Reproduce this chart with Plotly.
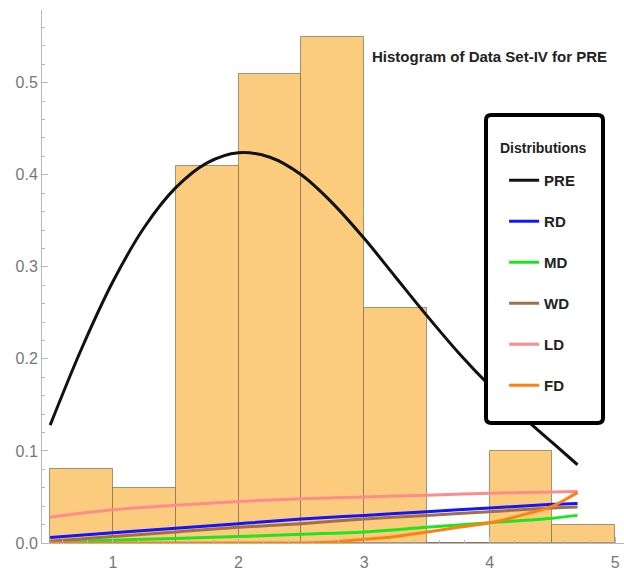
import plotly.graph_objects as go

# Histogram of the data set (density scale), bins of width 0.5
bin_edges = [0.5, 1.0, 1.5, 2.0, 2.5, 3.0, 3.5, 4.0, 4.5, 5.0]
bin_density = [0.08, 0.06, 0.41, 0.51, 0.55, 0.255, 0.0, 0.10, 0.02]

# Fitted density curves
pre_x = [0.5, 0.75, 1.0, 1.25, 1.5, 1.75, 2.0, 2.25, 2.5, 2.75, 3.0, 3.25, 3.5, 3.75, 4.0, 4.25, 4.5, 4.7]
pre_y = [0.128, 0.211, 0.284, 0.343, 0.386, 0.413, 0.424, 0.419, 0.400, 0.369, 0.331, 0.289, 0.247, 0.207, 0.171, 0.139, 0.109, 0.085]

grid_x = [0.5, 1.0, 1.5, 2.0, 2.5, 3.0, 3.5, 4.0, 4.5, 4.7]
rd_y = [0.006, 0.011, 0.016, 0.021, 0.026, 0.030, 0.034, 0.038, 0.042, 0.043]
md_y = [0.001, 0.003, 0.005, 0.007, 0.0095, 0.012, 0.017, 0.022, 0.027, 0.030]
wd_y = [0.002, 0.007, 0.012, 0.017, 0.021, 0.026, 0.030, 0.034, 0.038, 0.039]
ld_y = [0.028, 0.036, 0.041, 0.045, 0.048, 0.050, 0.052, 0.054, 0.0555, 0.056]

fd_x = [0.5, 1.0, 1.5, 2.0, 2.5, 2.75, 3.0, 3.25, 3.5, 3.75, 4.0, 4.25, 4.5, 4.6, 4.7]
fd_y = [0.0, 0.0, 0.0, 0.0, 0.0, 0.001, 0.004, 0.007, 0.012, 0.017, 0.022, 0.030, 0.040, 0.047, 0.055]

series = [
    ("PRE", pre_x, pre_y, "#111111"),
    ("RD", grid_x, rd_y, "#1414ff"),
    ("MD", grid_x, md_y, "#1ee61e"),
    ("WD", grid_x, wd_y, "#a0704a"),
    ("LD", grid_x, ld_y, "#ff8c8c"),
    ("FD", fd_x, fd_y, "#ff8010"),
]

FONT = "Liberation Sans, Arial, sans-serif"

fig = go.Figure()

centers = [(a + b) / 2 for a, b in zip(bin_edges[:-1], bin_edges[1:])]
widths = [b - a for a, b in zip(bin_edges[:-1], bin_edges[1:])]
fig.add_trace(go.Bar(
    x=centers, y=bin_density, width=widths,
    marker=dict(color="#fccc7e", line=dict(color="rgba(120,100,70,0.65)", width=1)),
    showlegend=False, hoverinfo="skip",
))

for i, (name, xs, ys, col) in enumerate(series):
    fig.add_trace(go.Scatter(
        x=xs, y=ys, name=name, mode="lines",
        line=dict(color=col, width=3, shape="spline", smoothing=1.0),
        legendgroup=f"g{i}",
    ))

# Title text in the upper right of the plot area
fig.add_annotation(
    text="<b>Histogram of Data Set-IV for PRE</b>",
    xref="paper", yref="paper", x=0.974, y=0.912,
    xanchor="right", yanchor="middle", showarrow=False,
    font=dict(family=FONT, size=15, color="#222222"),
)

# Legend frame: opaque white box with a heavy, slightly rounded black border
bx0, bx1, by0, by1 = 0.7629, 0.9639, 0.2251, 0.8030
rx, ry = 0.009, 0.0095
frame = (
    f"M {bx0 + rx},{by1} L {bx1 - rx},{by1} Q {bx1},{by1} {bx1},{by1 - ry} "
    f"L {bx1},{by0 + ry} Q {bx1},{by0} {bx1 - rx},{by0} "
    f"L {bx0 + rx},{by0} Q {bx0},{by0} {bx0},{by0 + ry} "
    f"L {bx0},{by1 - ry} Q {bx0},{by1} {bx0 + rx},{by1} Z"
)
fig.add_shape(
    type="path", path=frame, xref="paper", yref="paper",
    line=dict(color="black", width=4), fillcolor="white", layer="above",
)
fig.add_annotation(
    text="<b>Distributions</b>",
    xref="paper", yref="paper", x=0.861, y=0.741,
    xanchor="center", yanchor="middle", showarrow=False,
    font=dict(family=FONT, size=14, color="#222222"),
)

fig.update_layout(
    width=624, height=574,
    margin=dict(l=42, r=0, t=10, b=31),
    paper_bgcolor="white", plot_bgcolor="white",
    bargap=0,
    font=dict(family=FONT, color="#222222"),
    legend=dict(
        x=0.794, y=0.7111, xanchor="left", yanchor="top",
        borderwidth=0, bgcolor="rgba(0,0,0,0)",
        font=dict(family=FONT, size=15, color="#222222", weight="bold"),
        traceorder="grouped", tracegroupgap=18.5,
        itemwidth=30,
    ),
    xaxis=dict(
        range=[0.435, 5.07], showgrid=False, zeroline=False,
        showline=True, linecolor="#b8b8b8", linewidth=1,
        ticks="inside", ticklen=6, tickcolor="#b8b8b8",
        tickvals=[1, 2, 3, 4, 5], ticklabelstandoff=5,
        tickfont=dict(family=FONT, size=16, color="#777777"),
        minor=dict(ticks="inside", ticklen=3, dtick=0.2, tickcolor="#b8b8b8", tick0=0),
    ),
    yaxis=dict(
        range=[0, 0.579], showgrid=False, zeroline=False,
        showline=True, linecolor="#b8b8b8", linewidth=1,
        ticks="inside", ticklen=6, tickcolor="#b8b8b8",
        tickvals=[0, 0.1, 0.2, 0.3, 0.4, 0.5], tickformat=".1f",
        tickfont=dict(family=FONT, size=16, color="#777777"),
        minor=dict(ticks="inside", ticklen=3, dtick=0.02, tickcolor="#b8b8b8", tick0=0),
    ),
)

fig.write_html("out.html")
